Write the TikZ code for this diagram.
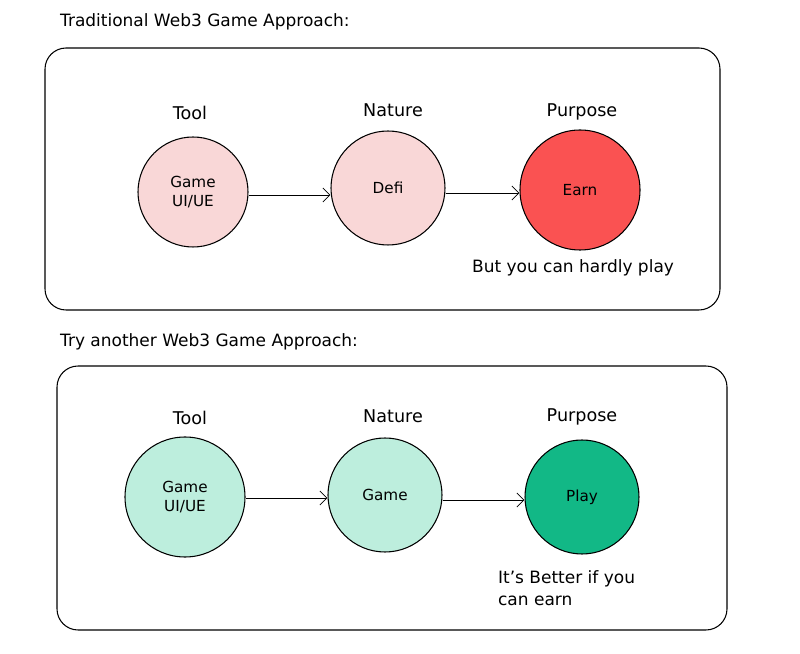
\documentclass[tikz,border=0pt]{standalone}
\usepackage{fontspec}
\setmainfont{DejaVu Sans}
\usetikzlibrary{arrows.meta,patterns}
\definecolor{pinkl}{HTML}{F9D7D7}
\definecolor{redd}{HTML}{FA5252}
\definecolor{tealL}{HTML}{BDEEDD}
\definecolor{greenD}{HTML}{12B886}
\begin{document}
\begin{tikzpicture}[x=0.03cm,y=-0.03cm,
  box/.style={draw,line width=0.9pt,rounded corners=18pt},
  circ/.style={circle,draw,line width=0.9pt,font=\fontsize{13}{16}\selectfont,align=center,inner sep=0pt},
  lab/.style={font=\fontsize{15}{18}\selectfont},
  txt/.style={font=\fontsize{14.5}{19}\selectfont},
  arr/.style={-{Straight Barb[length=6pt]},line width=0.7pt}]
\useasboundingbox (0,0) rectangle (800,654);
\node[anchor=west,txt] (t1) at (56,22) {Traditional Web3 Game Approach:};
\draw[box] (45,48) rectangle (720,310);
\node[lab] (l1) at (190,113) {Tool};
\node[lab] (l2) at (393,110) {Nature};
\node[lab] (l3) at (582,112) {Purpose};
\node[circ,fill=pinkl,minimum size=110*0.03cm] (a1) at (193,192) {Game\\UI/UE};
\node[circ,fill=pinkl,minimum size=114*0.03cm] (a2) at (388,188) {Defi};
\node[circ,fill=redd,minimum size=120*0.03cm] (a3) at (580,190) {Earn};
\draw[arr] (a1.east |- 0,195) -- (a2.west |- 0,195);
\draw[arr] (a2.east |- 0,193) -- (a3.west |- 0,193);
\node[anchor=west,txt] (n1) at (468,268) {But you can hardly play};
\node[anchor=west,txt] (t2) at (56,342) {Try another Web3 Game Approach:};
\draw[box] (57,366) rectangle (727,630);
\node[lab] (m1) at (190,418) {Tool};
\node[lab] (m2) at (393,416) {Nature};
\node[lab] (m3) at (582,417) {Purpose};
\node[circ,fill=tealL,minimum size=120*0.03cm] (b1) at (185,497) {Game\\UI/UE};
\node[circ,fill=tealL,minimum size=114*0.03cm] (b2) at (385,495) {Game};
\node[circ,fill=greenD,minimum size=114*0.03cm] (b3) at (582,497) {Play};
\draw[arr] (b1.east |- 0,498) -- (b2.west |- 0,498);
\draw[arr] (b2.east |- 0,500) -- (b3.west |- 0,500);
\node[anchor=north west,align=left,txt] (n2) at (494,566) {It's Better if you\\can earn};
\end{tikzpicture}
\end{document}
